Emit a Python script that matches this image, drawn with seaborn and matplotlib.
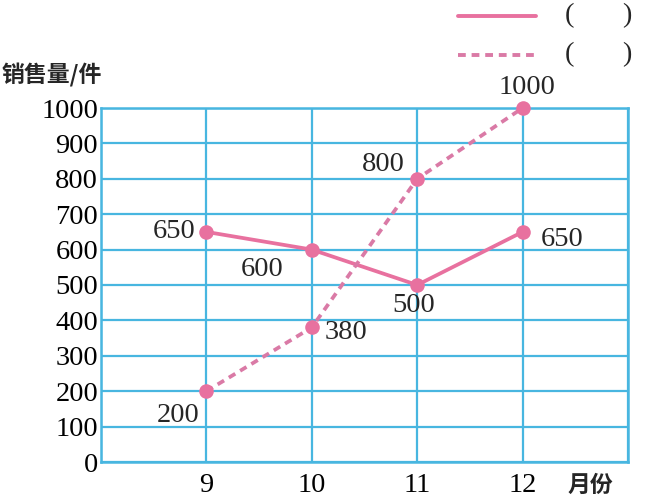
import matplotlib
matplotlib.use("Agg")
import matplotlib.pyplot as plt
from matplotlib.lines import Line2D
import seaborn as sns
import pandas as pd

months = [9, 10, 11, 12]
solid_values = [650, 600, 500, 650]
dashed_values = [200, 380, 800, 1000]
y_ticks = [0, 100, 200, 300, 400, 500, 600, 700, 800, 900, 1000]
x_tick_labels = ["9", "10", "11", "12"]
y_label = "销售量/件"
x_label = "月份"
legend_labels = ["(       )", "(       )"]

# label offsets in pixels (dx, dy) relative to each point
solid_offsets = [(-32, 0), (-50, -20), (-4, -20), (40, -8)]
dashed_offsets = [(-28, -24), (34, -5), (-34, 14), (4, 21)]

sns.set_theme(style="white")
plt.rcParams["font.family"] = ["Liberation Serif", "DejaVu Sans"]

pink = "#E8719F"
pink_dash = "#DA7AA6"
grid_blue = "#48B6E0"
fs = 20.5

fig = plt.figure(figsize=(6.47, 5.0), dpi=100)
ax = fig.add_axes([101 / 647, 38 / 500, (628 - 101) / 647, (462 - 108) / 500])

df_s = pd.DataFrame({"month": months, "value": solid_values})
df_d = pd.DataFrame({"month": months, "value": dashed_values})

sns.lineplot(data=df_s, x="month", y="value", ax=ax, color=pink, lw=2.7,
             marker="o", markersize=10.5, markeredgewidth=0, zorder=4,
             clip_on=False)
sns.lineplot(data=df_d, x="month", y="value", ax=ax, color=pink_dash, lw=2.7,
             linestyle=(0, (2.0, 1.5)), marker="o", markersize=10.5,
             markeredgewidth=0, markerfacecolor=pink, zorder=4, clip_on=False)

ax.set_xlim(8, 13)
ax.set_ylim(0, 1000)
ax.set_xticks(months)
ax.set_xticklabels(x_tick_labels)
ax.set_yticks(y_ticks)
ax.set_yticklabels([str(v) for v in y_ticks])
ax.set_xticks([8, 13], minor=True)
ax.grid(True, which="both", color=grid_blue, lw=1.6, zorder=1)
ax.set_axisbelow(True)
for s in ax.spines.values():
    s.set_visible(True)
    s.set_color(grid_blue)
    s.set_linewidth(1.8)
ax.tick_params(axis="both", which="both", length=0, labelsize=fs, colors="black")
ax.tick_params(axis="y", pad=2)
ax.tick_params(axis="x", pad=8)
ax.set_xlabel("")
ax.set_ylabel("")

for m, v, (dx, dy) in zip(months, solid_values, solid_offsets):
    ax.annotate(str(v), (m, v), xytext=(dx, dy), textcoords="offset pixels",
                ha="center", va="center", fontsize=fs)
for m, v, (dx, dy) in zip(months, dashed_values, dashed_offsets):
    ax.annotate(str(v), (m, v), xytext=(dx, dy), textcoords="offset pixels",
                ha="center", va="center", fontsize=fs)

cjk = ["Noto Sans CJK SC", "DejaVu Sans"]
fig.text(2 / 647, 1 - 75 / 500, y_label, family=cjk, fontsize=16.5,
         fontweight="bold", ha="left", va="center")
fig.text(590 / 647, 1 - 485 / 500, x_label, family=cjk, fontsize=16.5,
         fontweight="bold", ha="center", va="center")

# legend
fig.add_artist(Line2D([458 / 647, 536 / 647], [1 - 16 / 500, 1 - 16 / 500],
                      transform=fig.transFigure, color=pink, lw=2.8))
fig.add_artist(Line2D([458 / 647, 536 / 647], [1 - 55 / 500, 1 - 55 / 500],
                      transform=fig.transFigure, color=pink_dash, lw=2.8,
                      linestyle=(0, (2.0, 1.5))))
for yy, lab in zip([16, 55], legend_labels):
    fig.text(570 / 647, 1 - yy / 500, "(", fontsize=fs, ha="center", va="center")
    fig.text(627 / 647, 1 - yy / 500, ")", fontsize=fs, ha="center", va="center")

fig.savefig("out.png", dpi=100)
